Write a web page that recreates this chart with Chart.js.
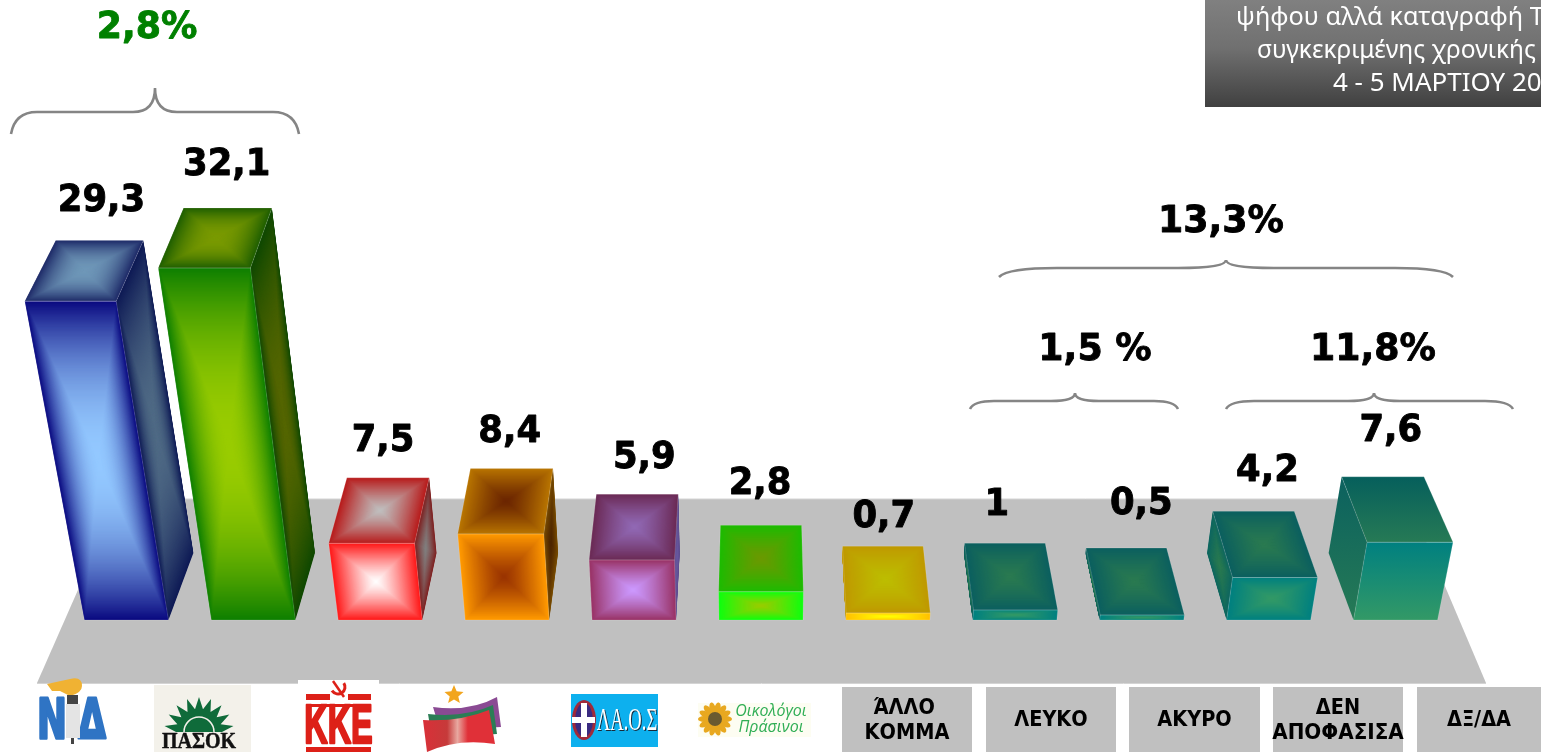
<!DOCTYPE html>
<html lang="el"><head><meta charset="utf-8">
<style>html,body{margin:0;padding:0;background:#fff;overflow:hidden}canvas{display:block}</style>
<script src="https://cdn.jsdelivr.net/npm/chart.js@4"></script>
</head><body><canvas id="c" width="1541" height="752"></canvas>
<script>
const categories=['ΝΔ','ΠΑΣΟΚ','ΚΚΕ','ΣΥΡΙΖΑ','ΛΑ.Ο.Σ','Οικολόγοι Πράσινοι','ΆΛΛΟ ΚΟΜΜΑ','ΛΕΥΚΟ','ΑΚΥΡΟ','ΔΕΝ ΑΠΟΦΑΣΙΣΑ','ΔΞ/ΔΑ'];
const values=[29.3,32.1,7.5,8.4,5.9,2.8,0.7,1,0.5,4.2,7.6];
const frontEdge=['#0a0a80','#0e7f00','#ff1a1a','#ff9900','#993366','#0eff0e','#ffc000','#008080','#008080','#008080','#008080'];
const frontCore=['#93c8ff','#99cc00','#ffffff','#993300','#cc99ff','#99cc00','#ffff00','#339966','#339966','#339966','#339966'];
const topEdge=['#1e2a68','#1f5f00','#b81c1c','#b87400','#6b2a55','#1dbb00','#bf9900','#0b5f5f','#0b5f5f','#0b5f5f','#065f5c'];
const topCore=['#6f97b8','#7a9a00','#bfbfbf','#6b2500','#9169b5','#6b9900','#bdbd00','#2a7a50','#2a7a50','#2a7a50','#267a55'];
const sideEdge=['#0e1a55','#0f4800','#7f2020','#7a4d00','#5c4d8f','#1dbb00','#bf9900','#0b5f5f','#0b5f5f','#0d6660','#0b615f'];
const sideCore=['#4f6a85','#556600','#808080','#4d2600','#6a5a9f','#1dbb00','#bf9900','#2a7a50','#2a7a50','#2a7a50','#267a55'];
const groupTotals=[{text:'2,8%',color:'#008000'},{text:'13,3%',color:'#000'},{text:'1,5 %',color:'#000'},{text:'11,8%',color:'#000'}];
const headerLines=['ψήφου αλλά καταγραφή Τ','συγκεκριμένης χρονικής','4 - 5 ΜΑΡΤΙΟΥ 20'];

const F='"DejaVu Sans",sans-serif';
const labelShift=[[2,-39],[-1,-43],[-5,-36],[-2,-36],[7,-36],[-1,-41],[1,-29],[-8,-38],[15,-44],[14,-40],[8,-45]];
const K=3323,DEPTH_PX=67,DEPTH_X=.958,DEPTH_H=.98;

function hex(c){return [1,3,5].map(i=>parseInt(c.substr(i,2),16));}
function mix(a,b,t){const A=hex(a),B=hex(b);return `rgb(${A.map((v,i)=>Math.round(v+(B[i]-v)*t)).join(',')})`;}
function poly(ctx,p){ctx.beginPath();p.forEach((q,i)=>i?ctx.lineTo(q[0],q[1]):ctx.moveTo(q[0],q[1]));ctx.closePath();}
function pathGrad(ctx,pts,edge,core,steps,ease){
  const cx=pts.reduce((s,p)=>s+p[0],0)/pts.length,cy=pts.reduce((s,p)=>s+p[1],0)/pts.length;
  for(let i=0;i<=steps;i++){const t=i/steps;
    poly(ctx,pts.map(p=>[p[0]+(cx-p[0])*t,p[1]+(cy-p[1])*t]));
    ctx.fillStyle=mix(edge,core,1-Math.pow(1-t,ease));ctx.fill();}
}
function linGrad(ctx,pts,edge,core){
  const ys=pts.map(p=>p[1]);const g=ctx.createLinearGradient(0,Math.min(...ys),0,Math.max(...ys));
  g.addColorStop(0,edge);g.addColorStop(1,core);poly(ctx,pts);ctx.fillStyle=g;ctx.fill();
}
function text(ctx,s,x,y,font,color,align='center',sx=1,heavy=0){
  ctx.save();ctx.translate(x,y);ctx.scale(sx,1);
  ctx.font=font;ctx.fillStyle=color;ctx.textAlign=align;ctx.textBaseline='middle';
  if(heavy){ctx.strokeStyle=color;ctx.lineWidth=heavy;ctx.lineJoin='round';ctx.strokeText(s,0,0);}
  ctx.fillText(s,0,0);ctx.restore();}
function brace(ctx,x0,x1,xm,yEnd,yLine,yTip,r,r2,lw){
  ctx.beginPath();ctx.moveTo(x0,yEnd);ctx.quadraticCurveTo(x0+r*.15,yLine,x0+r,yLine);ctx.lineTo(xm-r2,yLine);
  ctx.quadraticCurveTo(xm,yLine,xm,yTip);ctx.quadraticCurveTo(xm,yLine,xm+r2,yLine);
  ctx.lineTo(x1-r,yLine);ctx.quadraticCurveTo(x1-r*.15,yLine,x1,yEnd);
  ctx.strokeStyle='#858585';ctx.lineWidth=lw;ctx.stroke();
}
function drawLogos(ctx){
  // ΝΔ
  ctx.fillStyle='#f0b233';ctx.beginPath();ctx.moveTo(47,684);ctx.lineTo(70,679);ctx.quadraticCurveTo(82,676,82,686);ctx.quadraticCurveTo(82,693,70,696);ctx.lineTo(60,691);ctx.lineTo(52,691);ctx.closePath();ctx.fill();
  text(ctx,'Ν',52,724,'bold 55px '+F,'#2f74c4','center',.65,3);
  text(ctx,'Δ',92,724,'bold 55px '+F,'#2f74c4','center',.65,3);
  ctx.fillStyle='#e4e4e4';ctx.fillRect(66,704,14,34);ctx.fillStyle='#444';ctx.fillRect(67,695,11,9);ctx.fillRect(71,738,3,6);
  // ΠΑΣΟΚ
  ctx.fillStyle='#f3f1ea';ctx.fillRect(154,685,97,67);
  ctx.fillStyle='#0f6b3a';ctx.beginPath();
  const sx=199,sy=732;
  for(let i=0;i<=18;i++){const a=Math.PI+Math.PI*i/18,r=i%2?35:23;ctx.lineTo(sx+Math.cos(a)*r,sy+Math.sin(a)*r);}
  ctx.closePath();ctx.fill();
  ctx.strokeStyle='#f3f1ea';ctx.lineWidth=1.5;ctx.beginPath();ctx.arc(sx,sy,15,Math.PI,0);ctx.stroke();
  text(ctx,'ΠΑΣΟΚ',199,742,'bold 23px "Liberation Serif",serif','#111','center',.87,.5);
  // ΚΚΕ
  ctx.fillStyle='#fff';ctx.fillRect(298,680,81,72);
  ctx.fillStyle='#dd2018';ctx.fillRect(306,694,24,6);ctx.fillRect(348,694,23,6);ctx.fillRect(306,704,65,3);ctx.fillRect(306,747,65,5);
  ctx.strokeStyle='#dd2018';ctx.lineWidth=3;ctx.beginPath();ctx.arc(338,687,7,-.6,2.6);ctx.stroke();
  ctx.lineWidth=2.5;ctx.beginPath();ctx.moveTo(333,681);ctx.lineTo(344,697);ctx.stroke();
  text(ctx,'ΚΚΕ',338.5,728,'bold 56px "Liberation Sans",sans-serif','#dd2018','center',.58,2.5);
  // ΣΥΡΙΖΑ flag
  ctx.fillStyle='#f2a51e';ctx.beginPath();
  for(let i=0;i<10;i++){const a=-Math.PI/2+i*Math.PI/5,r=i%2?4.5:10;ctx.lineTo(454+Math.cos(a)*r,695+Math.sin(a)*r);}
  ctx.closePath();ctx.fill();
  ctx.fillStyle='#8a4a93';ctx.beginPath();ctx.moveTo(433,707);ctx.quadraticCurveTo(470,712,497,697);ctx.lineTo(501,727);ctx.lineTo(440,730);ctx.closePath();ctx.fill();
  ctx.fillStyle='#2b7d55';ctx.beginPath();ctx.moveTo(428,714);ctx.quadraticCurveTo(465,718,493,705);ctx.lineTo(497,734);ctx.lineTo(432,738);ctx.closePath();ctx.fill();
  const rg=ctx.createLinearGradient(423,0,492,0);rg.addColorStop(0,'#d93038');rg.addColorStop(.35,'#c63a3a');rg.addColorStop(.5,'#e8a8a0');rg.addColorStop(.65,'#e03038');rg.addColorStop(1,'#e03038');
  ctx.fillStyle=rg;ctx.beginPath();ctx.moveTo(423,720);ctx.quadraticCurveTo(460,722,489,710);ctx.lineTo(495,744);ctx.quadraticCurveTo(458,738,427,752);ctx.closePath();ctx.fill();
  // ΛΑ.Ο.Σ
  ctx.fillStyle='#0db0ee';ctx.fillRect(571,694,87,53);
  ctx.fillStyle='#a02a3a';ctx.beginPath();ctx.ellipse(584,720,12,20,0,0,7);ctx.fill();
  ctx.fillStyle='#3a2a80';ctx.beginPath();ctx.ellipse(584,720,9,17,0,0,7);ctx.fill();
  ctx.fillStyle='#fff';ctx.fillRect(572,717,23,6);ctx.fillRect(581,703,6,34);
  text(ctx,'ΛΑ.Ο.Σ',628,723,'31px "Liberation Serif",serif','#1a2a3a','center',.6);
  text(ctx,'ΛΑ.Ο.Σ',627,722,'31px "Liberation Serif",serif','#fff','center',.6);
  // Οικολόγοι Πράσινοι
  ctx.fillStyle='#fdfdf2';ctx.fillRect(698,703,113,34);
  ctx.fillStyle='#e8a820';
  for(let i=0;i<14;i++){const a=i*Math.PI/7;ctx.beginPath();ctx.ellipse(715+Math.cos(a)*11,719+Math.sin(a)*11,6,3,a,0,7);ctx.fill();}
  ctx.fillStyle='#6a5a30';ctx.beginPath();ctx.arc(715,719,7,0,7);ctx.fill();
  text(ctx,'Οικολόγοι',771,711,'italic 16px "Open Sans",sans-serif','#30ae55');
  text(ctx,'Πράσινοι',771,727,'italic 16px "Open Sans",sans-serif','#30ae55');
}
const bar3d={
  id:'bar3d',
  beforeDatasetsDraw(chart){
    const ctx=chart.ctx,fy=chart.scales.y.getPixelForValue(0);
    ctx.fillStyle='#c0c0c0';poly(ctx,[[118,fy-121],[1408,fy-121],[1486,fy+63],[37,fy+63]]);ctx.fill();
    ctx.strokeStyle='#d4d4d4';ctx.lineWidth=1;ctx.beginPath();ctx.moveTo(118,fy-121);ctx.lineTo(1408,fy-121);ctx.stroke();
    ctx.beginPath();ctx.moveTo(37,fy+63.5);ctx.lineTo(1486,fy+63.5);ctx.stroke();
  },
  beforeDatasetDraw(){return false;},
  afterDatasetsDraw(chart){
    const ctx=chart.ctx,area=chart.chartArea,mid=(area.left+area.right)/2;
    const els=chart.getDatasetMeta(0).data;
    ctx.save();
    els.forEach((el,i)=>{
      const base=el.base,h=base-el.y,L=el.x-el.width/2,R=el.x+el.width/2;
      const F0=(x,hh)=>[mid+(x-mid)*(1+hh/K),base-hh*(1+hh/K)];
      const B0=(x,hh)=>[mid+(x-mid)*DEPTH_X*(1+hh/K),base-DEPTH_PX-hh*DEPTH_H*(1+hh/K)];
      const front=[F0(L,h),F0(R,h),F0(R,0),F0(L,0)];
      const top=[B0(L,h),B0(R,h),F0(R,h),F0(L,h)];
      const tall=h>100;
      const paint=i===10?linGrad:(c,p,a,b)=>pathGrad(c,p,a,b,tall?140:40,tall?2.1:1.25);
      const outer=el.x<mid?R:L;
      const side=[B0(outer,h),F0(outer,h),F0(outer,0),B0(outer,0)];
      if(Math.abs(el.x-mid)>5) paint(ctx,side,sideEdge[i],sideCore[i]);
      paint(ctx,top,topEdge[i],topCore[i]);
      paint(ctx,front,frontEdge[i],frontCore[i]);
      ctx.strokeStyle='rgba(255,255,255,.22)';ctx.lineWidth=.7;
      poly(ctx,front);ctx.stroke();poly(ctx,top);ctx.stroke();
      const bt=B0(el.x,h);
      const lab=String(values[i]).replace('.',',');
      text(ctx,lab,bt[0]+labelShift[i][0],bt[1]+labelShift[i][1],'bold 37px '+F,'#000','center',.957,.9);
    });
    brace(ctx,11,299,155,134,112,88,26,22,2.6);
    brace(ctx,999,1453,1226,277,268,260,58,48,2.6);
    brace(ctx,970,1178,1075,409,401,393,24,24,2.6);
    brace(ctx,1226,1513,1374,409,401,393,28,26,2.6);
    const tf='bold 38px '+F;
    text(ctx,groupTotals[0].text,147,28,tf,groupTotals[0].color,'center',.955,.9);
    text(ctx,groupTotals[1].text,1221,222,tf,groupTotals[1].color,'center',.955,.9);
    text(ctx,groupTotals[2].text,1095,350,tf,groupTotals[2].color,'center',.955,.9);
    text(ctx,groupTotals[3].text,1373,350,tf,groupTotals[3].color,'center',.955,.9);
    const g=ctx.createLinearGradient(0,0,0,107);g.addColorStop(0,'#808080');g.addColorStop(.45,'#707070');g.addColorStop(1,'#404040');
    ctx.fillStyle=g;ctx.fillRect(1205,0,336,107);
    const hf='24.5px "Noto Sans",sans-serif';
    text(ctx,headerLines[0],1236,18,hf,'#fff','left',1.03);
    text(ctx,headerLines[1],1257,51,hf,'#fff','left');
    text(ctx,headerLines[2],1333,84,hf,'#fff','left',1.06);
    drawLogos(ctx);
    const boxes=[[842,972],[986,1116],[1129,1260],[1273,1403],[1417,1541]];
    boxes.forEach((b,j)=>{
      ctx.fillStyle='#c0c0c0';ctx.fillRect(b[0],687,b[1]-b[0],65);
      const parts=categories[6+j].split(' '),cx=(b[0]+b[1])/2;
      const bf='bold 21px '+F;
      if(parts.length===2){text(ctx,parts[0],cx+(j===0?-3:0),709,bf,'#000','center',.92);
        text(ctx,parts[1],cx,734,bf,'#000','center',parts[1].length>6?.95:.92);}
      else text(ctx,parts[0],cx,721,bf,'#000','center',.92);
    });
    ctx.restore();
  }
};
new Chart(document.getElementById('c'),{
  type:'bar',
  data:{labels:categories,datasets:[{data:values,backgroundColor:frontEdge,barPercentage:.662,categoryPercentage:1}]},
  options:{responsive:false,animation:false,devicePixelRatio:1,
    layout:{padding:{left:63,right:82,top:20,bottom:132}},
    plugins:{legend:{display:false},tooltip:{enabled:false},title:{display:false}},
    scales:{x:{display:false},y:{display:false,min:0,max:60}}},
  plugins:[bar3d]
});
</script></body></html>
